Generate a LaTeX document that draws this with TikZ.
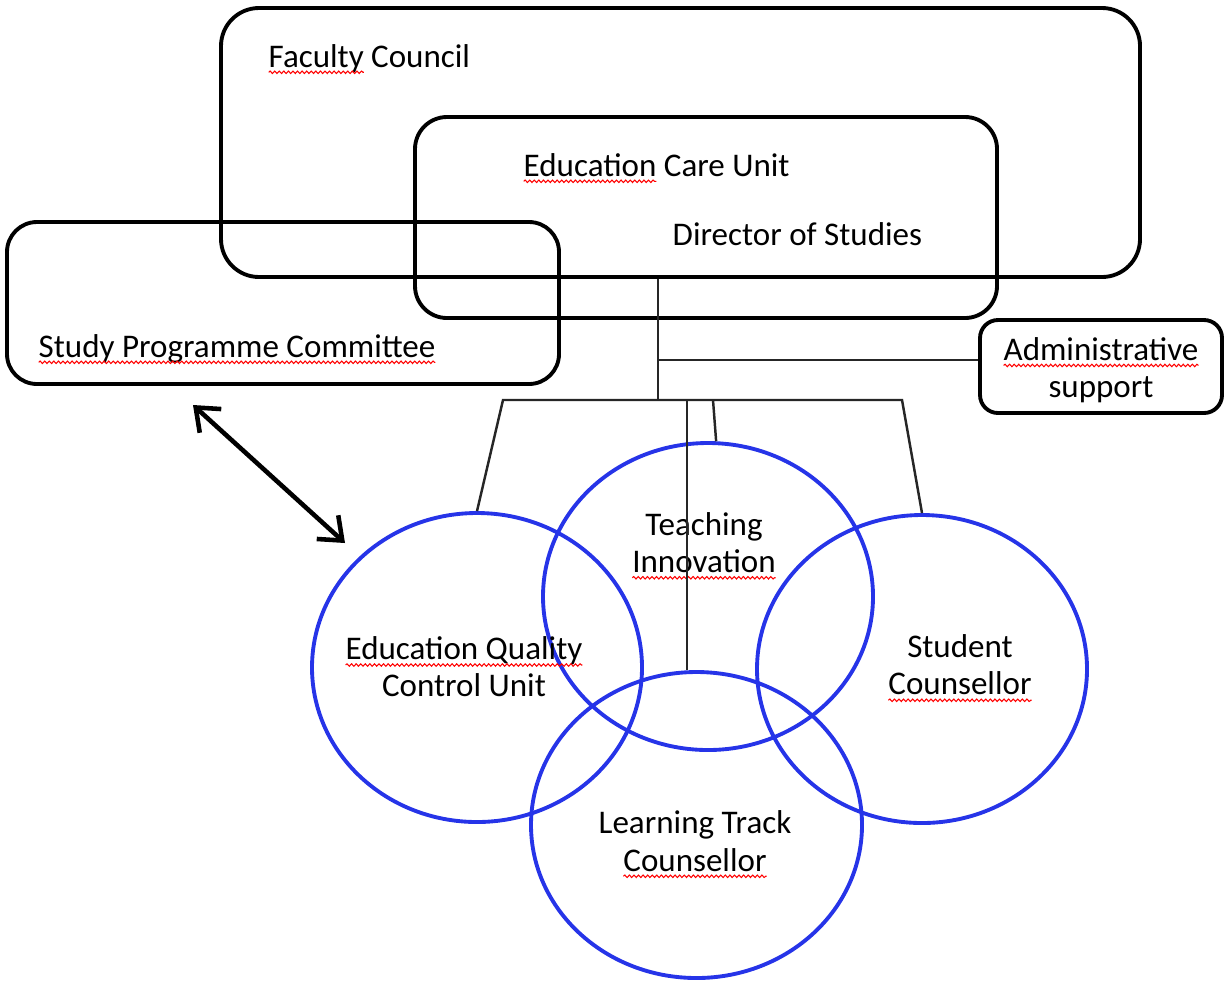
\documentclass[tikz,border=0pt]{standalone}
\usepackage{fontspec}
\setmainfont{Carlito}
\usetikzlibrary{arrows.meta,shapes.geometric,positioning,decorations.pathmorphing}

\definecolor{ringblue}{RGB}{38,52,232}

\tikzset{
  unit/.style={rectangle, draw=black, line width=1.1pt, rounded corners=#1, inner sep=0pt},
  unit/.default=3.5mm,
  ring/.style={ellipse, draw=ringblue, line width=1.1pt, inner sep=0pt},
  txt/.style={inner sep=0pt, align=center},
  link/.style={draw=black!85, line width=0.7pt},
  twoway/.style={line width=1.3pt, {Straight Barb[length=2mm,width=3.2mm]}-{Straight Barb[length=2mm,width=3.2mm]}},
  spellmark/.style={draw=red, line width=0.3pt, overlay, decorate, decoration={snake, amplitude=0.35pt, segment length=1.3pt}}
}
\newcommand{\spell}[1]{\tikz[baseline=(sw.base)]{\node[inner sep=0pt, outer sep=0pt] (sw) {#1};
   \draw[spellmark] ([yshift=-1.5pt]sw.base west) -- ([yshift=-1.5pt]sw.base east);}}

\begin{document}
\begin{tikzpicture}[every node/.style={font=\fontsize{9.4}{10.6}\selectfont}]
   \useasboundingbox (0,0) rectangle (12.25,9.8);

   %boxes
   \node[unit=3.8mm, minimum width=9.19cm, minimum height=2.69cm] (fc) at (6.805,8.375) {};
   \node[unit=3.2mm, minimum width=5.82cm, minimum height=2.01cm] (ecu) at (7.06,7.625) {};
   \node[unit=3mm, minimum width=5.52cm, minimum height=1.62cm] (spc) at (2.83,6.77) {};
   \node[unit=1.8mm, minimum width=2.42cm, minimum height=0.93cm] (admin) at (11.01,6.135) {};

   %box texts
   \node[txt, anchor=base west] (fctext) at (2.68,9.13) {\spell{Faculty} Council};
   \node[txt, anchor=base west] (ecutext) at (5.23,8.04) {\spell{Education} Care Unit};
   \node[txt, anchor=base west] (dirtext) at (6.72,7.35) {Director of Studies};
   \node[txt, anchor=base west] (spctext) at (0.38,6.23) {\spell{Study Programme Committee}};
   \node[txt] (admintext) at (11.01,6.10) {\spell{Administrative}\\support};

   %rings
   \node[ring, minimum width=3.30cm, minimum height=3.09cm] (eqcu) at (4.77,3.125) {};
   \node[ring, minimum width=3.30cm, minimum height=3.07cm] (ti) at (7.08,3.835) {};
   \node[ring, minimum width=3.30cm, minimum height=3.08cm] (sc) at (9.22,3.11) {};
   \node[ring, minimum width=3.31cm, minimum height=3.06cm] (ltc) at (6.965,1.55) {};

   %ring texts
   \node[txt] (eqcutext) at (4.64,3.13) {\spell{Education Quality}\\Control Unit};
   \node[txt] (titext) at (7.04,4.375) {Teaching\\\spell{Innovation}};
   \node[txt] (sctext) at (9.60,3.15) {Student\\\spell{Counsellor}};
   \node[txt] (ltctext) at (6.95,1.39) {Learning Track\\\spell{Counsellor}};

   %joints
   \coordinate (hub) at (6.58,5.80);
   \coordinate (bl) at (5.03,5.80);
   \coordinate (br) at (9.02,5.80);
   \coordinate (tj) at (7.13,5.80);
   \coordinate (lj) at (6.87,5.80);
   \coordinate (spcend) at (1.93,5.75);
   \coordinate (eqend) at (3.45,4.37);

   \draw[link] (hub |- fc.south) -- (hub);
   \draw[link] ([yshift=0.065cm]admin.west -| hub) -- ([yshift=0.065cm]admin.west);
   \draw[link] (eqcu.north) -- (bl) -- (br) -- (sc.north);
   \draw[link] (tj) -- (ti.87);
   \draw[link] (lj) -- (lj |- ltc.north);

   \draw[twoway] (spcend) -- (eqend);
\end{tikzpicture}
\end{document}
